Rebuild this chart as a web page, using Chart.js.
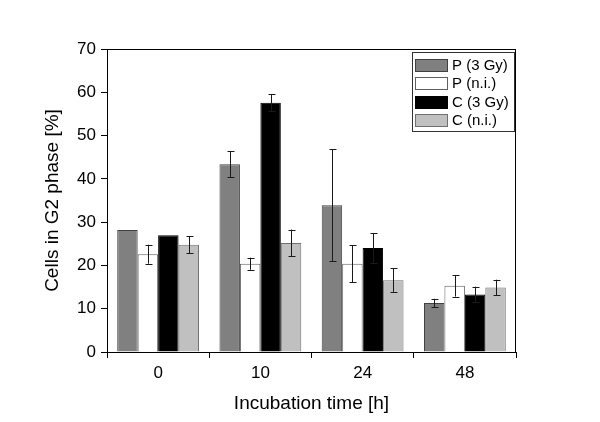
<!DOCTYPE html>
<html>
<head>
<meta charset="utf-8">
<script src="https://cdn.jsdelivr.net/npm/chart.js@4"></script>
<style>
    body { margin: 0; background: #fff; }
</style>
</head>
<body>
<canvas id="grafico" width="600" height="422"></canvas>
<script>
// dados
const categorias = ["0", "10", "24", "48"];
const rotulos = ["P (3 Gy)", "P (n.i.)", "C (3 Gy)", "C (n.i.)"];
const p3Gy = [28.2, 43.4, 33.9, 11.3];
const p3GyErro = [0, 3.0, 12.9, 1.0];
const pNi = [22.6, 20.4, 20.4, 15.3];
const pNiErro = [2.2, 1.4, 4.3, 2.5];
const c3Gy = [27.0, 57.6, 24.0, 13.3];
const c3GyErro = [0, 2.0, 3.4, 1.8];
const cNi = [24.8, 25.2, 16.6, 14.9];
const cNiErro = [2.0, 3.1, 2.7, 1.8];

const erros = [p3GyErro, pNiErro, c3GyErro, cNiErro];
const fonte = "'Liberation Sans', Arial, sans-serif";

// barras de erro desenhadas depois das barras
const pluginErros = {
    id: "erros",
    afterDatasetsDraw(chart) {
        const ctx = chart.ctx;
        const y = chart.scales.y;
        ctx.save();
        ctx.strokeStyle = "#1a1a1a";
        ctx.lineWidth = 1;
        chart.data.datasets.forEach((ds, i) => {
            const meta = chart.getDatasetMeta(i);
            meta.data.forEach((barra, j) => {
                const e = erros[i][j];
                if (!e) return;
                const x = Math.round(barra.x) + 0.5;
                const topo = y.getPixelForValue(ds.data[j] + e);
                const base = y.getPixelForValue(ds.data[j] - e);
                ctx.beginPath();
                ctx.moveTo(x, topo);
                ctx.lineTo(x, base);
                ctx.moveTo(x - 3, Math.round(topo) + 0.5);
                ctx.lineTo(x + 4, Math.round(topo) + 0.5);
                ctx.moveTo(x - 3, Math.round(base) + 0.5);
                ctx.lineTo(x + 4, Math.round(base) + 0.5);
                ctx.stroke();
            });
        });
        ctx.restore();
    }
};

// moldura da area do grafico e legenda dentro dela
const pluginMoldura = {
    id: "moldura",
    afterDraw(chart) {
        const ctx = chart.ctx;
        const a = chart.chartArea;
        ctx.save();
        ctx.strokeStyle = "#000";
        ctx.lineWidth = 1;
        ctx.strokeRect(Math.round(a.left) + 0.5, Math.round(a.top) + 0.5,
            Math.round(a.right - a.left) - 1, Math.round(a.bottom - a.top));

        // legenda
        const lx = 412, ly = 52, lw = 102, lh = 79;
        ctx.fillStyle = "#fff";
        ctx.fillRect(lx, ly, lw, lh);
        ctx.strokeStyle = "#333";
        ctx.strokeRect(lx + 0.5, ly + 0.5, lw, lh);
        ctx.font = "15px " + fonte;
        ctx.textBaseline = "middle";
        chart.data.datasets.forEach((ds, i) => {
            const cy = 64.5 + i * 18.6;
            ctx.fillStyle = ds.backgroundColor;
            ctx.fillRect(415, Math.round(cy - 6), 33, 12);
            ctx.strokeStyle = ds.borderColor;
            ctx.strokeRect(415.5, Math.round(cy - 6) + 0.5, 32, 12);
            ctx.fillStyle = "#000";
            ctx.fillText(ds.label, 452, cy + 1);
        });
        ctx.restore();
    }
};

new Chart(document.getElementById("grafico"), {
    type: "bar",
    data: {
        labels: categorias,
        datasets: [
            { label: rotulos[0], data: p3Gy, backgroundColor: "#808080", borderColor: "#404040" },
            { label: rotulos[1], data: pNi, backgroundColor: "#ffffff", borderColor: "#606060" },
            { label: rotulos[2], data: c3Gy, backgroundColor: "#000000", borderColor: "#000000" },
            { label: rotulos[3], data: cNi, backgroundColor: "#c0c0c0", borderColor: "#707070" }
        ]
    },
    options: {
        responsive: false,
        animation: false,
        layout: { padding: { left: 0, right: 84, top: 49, bottom: 0 } },
        datasets: {
            bar: { borderWidth: 1, barPercentage: 1, categoryPercentage: 0.8, borderSkipped: "bottom" }
        },
        plugins: {
            legend: { display: false },
            tooltip: { enabled: false }
        },
        scales: {
            x: {
                afterFit: s => { s.height = 70; },
                border: { display: false },
                grid: { drawOnChartArea: false, drawTicks: true, tickLength: 6, color: "#000" },
                ticks: { color: "#000", font: { family: fonte, size: 17 }, padding: 5 },
                title: {
                    display: true, text: "Incubation time [h]", color: "#000",
                    font: { family: fonte, size: 19 }, padding: { top: 4, bottom: 7 }
                }
            },
            y: {
                min: 0,
                max: 70,
                afterFit: s => { s.width = 107; },
                border: { display: false },
                grid: { drawOnChartArea: false, drawTicks: true, tickLength: 6, color: "#000" },
                ticks: { stepSize: 10, color: "#000", font: { family: fonte, size: 17 }, padding: 5 },
                title: {
                    display: true, text: "Cells in G2 phase [%]", color: "#000",
                    font: { family: fonte, size: 19 }, padding: { top: 41, bottom: 0 }
                }
            }
        }
    },
    plugins: [pluginErros, pluginMoldura]
});
</script>
</body>
</html>
